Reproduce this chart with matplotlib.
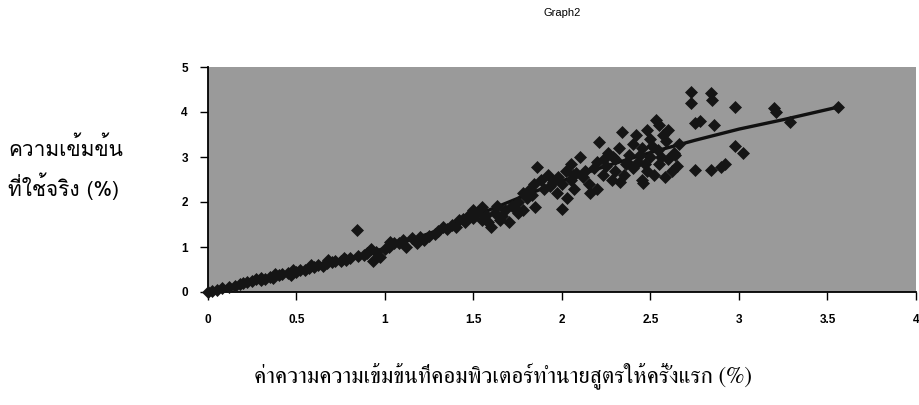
import matplotlib
matplotlib.use("Agg")
import matplotlib.pyplot as plt
from matplotlib import font_manager as fm

# ---------------- data ----------------
obs_x = [0.00, 0.02, 0.05, 0.08, 0.12, 0.15, 0.18, 0.20, 0.22, 0.25, 0.27, 0.30,
         0.32, 0.35, 0.37, 0.40, 0.42, 0.45, 0.47, 0.50, 0.52, 0.55, 0.57, 0.60,
         0.62, 0.65, 0.67, 0.70, 0.72, 0.75, 0.78, 0.80, 0.84, 0.85, 0.88, 0.90,
         0.93, 0.95, 0.97, 1.00, 1.02, 1.05, 1.08, 1.10, 1.12,
         0.30, 0.38, 0.48, 0.58, 0.68, 0.77, 0.92, 1.03,
         1.15, 1.18, 1.20, 1.22, 1.25, 1.28, 1.30, 1.33, 1.35, 1.38, 1.40, 1.42,
         1.45, 1.47, 1.50, 1.50, 1.52, 1.55, 1.55, 1.58, 1.60, 1.62, 1.63, 1.65,
         1.68, 1.70, 1.72, 1.75, 1.75, 1.78, 1.78, 1.80, 1.82, 1.84, 1.85, 1.86,
         1.88, 1.90, 1.92, 1.95, 1.97, 1.98, 2.00, 2.00,
         1.44, 1.57, 1.66, 1.73, 1.83, 1.93,
         2.02, 2.03, 2.05, 2.05, 2.07, 2.08, 2.10, 2.12, 2.15, 2.16, 2.18, 2.20,
         2.20, 2.21, 2.23, 2.25, 2.26, 2.28, 2.30, 2.30, 2.32, 2.34, 2.35, 2.36,
         2.38, 2.40, 2.40, 2.42, 2.43, 2.45, 2.45, 2.46, 2.48, 2.48, 2.50, 2.50,
         2.52, 2.53, 2.54, 2.55, 2.55, 2.57, 2.58, 2.60, 2.60, 2.62, 2.63, 2.65,
         2.66,
         2.06, 2.13, 2.24, 2.29, 2.37, 2.44, 2.51, 2.59, 2.64, 2.33, 2.47, 2.56,
         2.73, 2.73, 2.75, 2.75, 2.78, 2.84, 2.85, 2.84, 2.86, 2.90, 2.92, 2.98,
         2.98, 3.02, 3.20, 3.21, 3.29, 3.56]
obs_y = [0.00, 0.03, 0.05, 0.08, 0.11, 0.14, 0.17, 0.20, 0.22, 0.24, 0.28, 0.27,
         0.30, 0.33, 0.31, 0.37, 0.40, 0.42, 0.38, 0.45, 0.50, 0.48, 0.53, 0.55,
         0.60, 0.58, 0.64, 0.66, 0.68, 0.70, 0.72, 0.75, 1.38, 0.80, 0.82, 0.86,
         0.70, 0.90, 0.78, 0.95, 1.00, 1.08, 1.08, 1.15, 1.00,
         0.32, 0.40, 0.49, 0.60, 0.72, 0.76, 0.95, 1.12,
         1.20, 1.10, 1.22, 1.15, 1.25, 1.30, 1.35, 1.45, 1.40, 1.50, 1.45, 1.60,
         1.55, 1.70, 1.65, 1.82, 1.75, 1.88, 1.60, 1.55, 1.45, 1.75, 1.92, 1.60,
         1.82, 1.55, 1.92, 1.75, 2.00, 2.20, 1.82, 2.10, 2.30, 2.40, 1.90, 2.78,
         2.50, 2.30, 2.60, 2.45, 2.20, 2.55, 1.85, 2.40,
         1.62, 1.72, 1.70, 1.88, 2.15, 2.35,
         2.70, 2.10, 2.50, 2.85, 2.30, 2.65, 3.00, 2.55, 2.40, 2.20, 2.75, 2.30,
         2.90, 3.33, 2.60, 2.80, 3.10, 2.50, 2.95, 2.70, 3.20, 3.56, 2.60, 2.85,
         3.05, 2.75, 3.30, 3.50, 2.90, 2.50, 3.20, 2.42, 3.60, 2.70, 3.00, 3.40,
         2.60, 3.82, 3.15, 3.71, 2.85, 3.50, 2.55, 2.95, 3.60, 2.70, 3.10, 2.80,
         3.30,
         2.60, 2.70, 2.95, 3.00, 2.90, 3.05, 3.25, 3.35, 3.05, 2.45, 2.85, 3.00,
         4.44, 4.20, 3.75, 2.71, 3.80, 4.42, 4.27, 2.71, 3.71, 2.78, 2.85, 4.11,
         3.25, 3.10, 4.10, 4.00, 3.78, 4.11]

fit_x = [0.00, 0.25, 0.50, 0.75, 1.00, 1.25, 1.50, 1.75, 2.00, 2.25, 2.50,
         2.75, 3.00, 3.25, 3.56]
fit_y = [0.00, 0.22, 0.45, 0.70, 0.97, 1.30, 1.68, 2.08, 2.47, 2.80, 3.10,
         3.37, 3.62, 3.83, 4.11]

x_ticks = [0, 0.5, 1, 1.5, 2, 2.5, 3, 3.5, 4]
x_tick_labels = ["0", "0.5", "1", "1.5", "2", "2.5", "3", "3.5", "4"]
y_ticks = [0, 1, 2, 3, 4, 5]
y_tick_labels = ["0", "1", "2", "3", "4", "5"]

title_text = "Graph2"
ylabel_lines = ["ความเข้มข้น", "ที่ใช้จริง (%)"]
xlabel_text = "ค่าความความเข้มข้นที่คอมพิวเตอร์ทำนายสูตรให้ครั้งแรก (%)"

# ---------------- fonts ----------------
avail = {f.name for f in fm.fontManager.ttflist}
def pick(prefs, fallback="DejaVu Sans"):
    for p in prefs:
        if p in avail:
            return [p, fallback]
    return [fallback]

sans_thai = pick(["Loma", "Garuda", "Tlwg Typist", "Noto Sans Thai", "FreeSans"])
serif_thai = pick(["Kinnari", "Norasi", "FreeSerif", "Noto Serif Thai", "Charm"], "DejaVu Serif")
latin = pick(["Liberation Sans", "Arial"])

# ---------------- figure ----------------
W, H = 920, 405
fig = plt.figure(figsize=(W / 100, H / 100), dpi=100)
ax = fig.add_axes([208 / W, (H - 292) / H, (916 - 208) / W, (292 - 67) / H])
ax.set_facecolor("#9a9a9a")

ax.plot(fit_x, fit_y, color="#111111", lw=2.4, zorder=2, solid_capstyle="round")
ax.plot(obs_x, obs_y, linestyle="none", marker="D", ms=6.6, mfc="#151515",
        mec="#151515", mew=0.5, zorder=3, clip_on=False)

ax.set_xlim(0, 4)
ax.set_ylim(0, 5)
ax.set_xticks(x_ticks)
ax.set_xticklabels(x_tick_labels)
ax.set_yticks(y_ticks)
ax.set_yticklabels(y_tick_labels)

for s in ("top", "right"):
    ax.spines[s].set_visible(False)
for s in ("left", "bottom"):
    ax.spines[s].set_color("black")
    ax.spines[s].set_linewidth(1.3)

ax.tick_params(axis="both", direction="out", length=5.5, width=1.0, color="black",
               labelsize=8.5)
ax.tick_params(axis="x", pad=10)
ax.tick_params(axis="y", pad=9)
for lab in ax.get_xticklabels() + ax.get_yticklabels():
    lab.set_family(latin)
    lab.set_fontweight("bold")

fig.text(562 / W, 1 - 13 / H, title_text, ha="center", va="center",
         fontsize=8, family=latin)

fig.text(8 / W, 1 - 148 / H, ylabel_lines[0], ha="left", va="center",
         fontsize=15, family=sans_thai)
fig.text(8 / W, 1 - 186 / H, ylabel_lines[1], ha="left", va="center",
         fontsize=15, family=sans_thai)

fig.text(503 / W, 1 - 376 / H, xlabel_text, ha="center", va="center",
         fontsize=16.5, family=serif_thai)

fig.savefig("out.png", dpi=100)
